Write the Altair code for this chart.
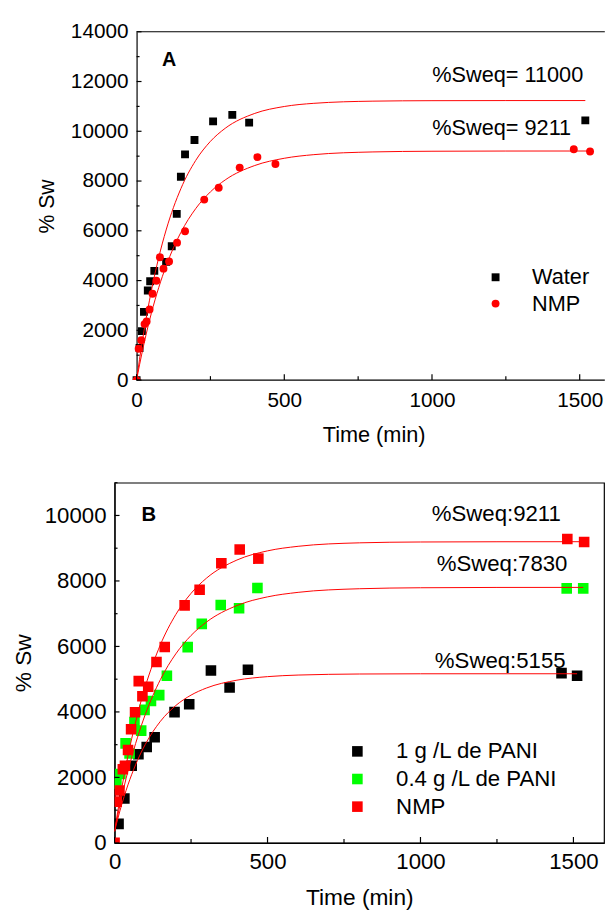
import altair as alt
import pandas as pd

FONT = "Liberation Sans"

# ---------------- Panel A data ----------------
water_t = [0, 10, 18, 25, 38, 46, 60, 100, 119, 136, 150, 164, 196, 259, 324, 381, 1519]
water_s = [0, 1290, 1970, 2740, 3600, 3970, 4390, 4750, 5380, 6680, 8170, 9070, 9650, 10400, 10660, 10350, 10440]
nmp_t = [0, 7, 16, 27, 34, 44, 54, 67, 79, 91, 110, 137, 164, 229, 278, 349, 409, 470, 1480, 1535]
nmp_s = [0, 1260, 1600, 2250, 2355, 2835, 3470, 3990, 4940, 4480, 4770, 5525, 5985, 7255, 7730, 8540, 8963, 8683, 9280, 9190]

fitA_water_t = [0, 10, 25, 50, 75, 100, 150, 200, 250, 300, 400, 500, 600, 800, 1000, 1250, 1519]
fitA_water_s = [0, 833, 1967, 3590, 4929, 6033, 7696, 8826, 9595, 10120, 10718, 10996, 11124, 11211, 11230, 11234, 11235]
fitA_nmp_t = [0, 10, 25, 50, 75, 100, 150, 200, 250, 300, 400, 500, 600, 800, 1000, 1250, 1536]
fitA_nmp_s = [0, 614, 1458, 2687, 3720, 4589, 5937, 6890, 7566, 8045, 8624, 8915, 9061, 9170, 9198, 9206, 9207]

A_labels = ["Water", "NMP"]
A_ann_text = ["%Sweq= 11000", "%Sweq= 9211"]
A_ann_t = [1001, 1001]
A_ann_s = [12267, 10147]

A_x_ticks = [0, 500, 1000, 1500]
A_x_minor = [250, 750, 1250]
A_y_ticks = [0, 2000, 4000, 6000, 8000, 10000, 12000, 14000]
A_y_minor = [1000, 3000, 5000, 7000, 9000, 11000, 13000]

# ---------------- Panel B data ----------------
pani1_t = [13, 32, 56, 78, 105, 131, 196, 244, 315, 376, 436, 1461, 1512]
pani1_s = [581, 1354, 2356, 2708, 2928, 3229, 3993, 4233, 5266, 4745, 5286, 5185, 5106]
pani04_t = [6, 19, 36, 49, 65, 87, 98, 119, 146, 171, 239, 285, 347, 407, 467, 1478, 1532]
pani04_s = [1805, 2106, 3039, 2729, 3692, 3430, 4062, 4333, 4514, 5106, 5980, 6690, 7265, 7165, 7785, 7773, 7773]
# NMP series in panel B is the same as nmp_t / nmp_s

fitB_nmp_t = [0, 10, 25, 50, 75, 100, 150, 200, 250, 300, 400, 500, 600, 800, 1000, 1250, 1550]
fitB_nmp_s = [350, 940, 1752, 2932, 3925, 4760, 6056, 6973, 7622, 8082, 8639, 8919, 9058, 9164, 9190, 9197, 9199]
fitB_04_t = [0, 10, 25, 50, 75, 100, 150, 200, 250, 300, 400, 500, 600, 800, 1000, 1250, 1532]
fitB_04_s = [350, 819, 1468, 2418, 3225, 3913, 4992, 5772, 6335, 6742, 7249, 7514, 7652, 7762, 7792, 7802, 7803]
fitB_1_t = [0, 10, 25, 50, 75, 100, 150, 200, 250, 300, 400, 500, 600, 800, 1000, 1250, 1512]
fitB_1_s = [350, 720, 1223, 1938, 2523, 3002, 3715, 4194, 4514, 4729, 4970, 5078, 5126, 5158, 5165, 5166, 5166]

B_labels = ["1 g /L de PANI", "0.4 g /L de PANI", "NMP"]
B_ann_text = ["%Sweq:9211", "%Sweq:7830", "%Sweq:5155"]
B_ann_t = [1037, 1053, 1047]
B_ann_s = [10044, 8510, 5552]

B_x_ticks = [0, 500, 1000, 1500]
B_x_minor = [250, 750, 1250]
B_y_ticks = [0, 2000, 4000, 6000, 8000, 10000]
B_y_minor = [1000, 3000, 5000, 7000, 9000, 11000]

# ---------------- layout constants ----------------
# panel A's origin sits A_OFF px right of panel B's origin
A_OFF = 22.3
A_W, A_H = 496.8, 353
B_W, B_H = 496, 365


def common(size):
    return dict(labelFont=FONT, titleFont=FONT, labelFontSize=size, labelColor="black",
                titleColor="black", domainColor="black", domainWidth=1.2, ticks=False,
                grid=False, titleFontWeight="normal", labelOverlap=False, format="d")


# ---------------- Panel A ----------------
xA = alt.Scale(domain=[-74.5, 1585], nice=False, zero=False)
yA = alt.Scale(domain=[0, 14000], nice=False)
axAx = alt.Axis(values=A_x_ticks, title="Time (min)", labelPadding=9.6, titlePadding=14.6,
                titleFontSize=22, labelFlush=False, domain=False, titleX=262.5, **common(21))
axAy = alt.Axis(values=A_y_ticks, title="% Sw", labelPadding=8.7, titlePadding=12.1,
                titleFontSize=21.5, offset=-A_OFF, **common(21))


def XA(f):
    return alt.X(f + ":Q", scale=xA, axis=axAx)


def YA(f):
    return alt.Y(f + ":Q", scale=yA, axis=axAy)


ptsA = pd.concat([
    pd.DataFrame({"t": water_t, "s": water_s, "series": A_labels[0]}),
    pd.DataFrame({"t": nmp_t, "s": nmp_s, "series": A_labels[1]}),
])
fitA = pd.concat([
    pd.DataFrame({"t": fitA_water_t, "s": fitA_water_s, "curve": "water"}),
    pd.DataFrame({"t": fitA_nmp_t, "s": fitA_nmp_s, "curve": "nmp"}),
])

legA = alt.Legend(orient="none", legendX=352.8 + A_OFF, legendY=237.8, title=None, labelFont=FONT,
                  labelFontSize=22, labelColor="black", labelOffset=26, rowPadding=4.7, padding=0,
                  symbolStrokeWidth=0, symbolSize=64, symbolOpacity=1, labelLimit=300)

pointsA = alt.Chart(ptsA).mark_point(filled=True, opacity=1, size=64, strokeWidth=0, clip=True).encode(
    x=XA("t"), y=YA("s"),
    color=alt.Color("series:N", scale=alt.Scale(domain=A_labels, range=["#000000", "#ff0000"]), legend=legA),
    shape=alt.Shape("series:N", scale=alt.Scale(domain=A_labels, range=["square", "circle"]), legend=legA),
)
linesA = alt.Chart(fitA).mark_line(color="#ff0000", strokeWidth=1, clip=True, interpolate="monotone").encode(
    x=XA("t"), y=YA("s"), detail="curve:N")

ticksA = [
    alt.Chart(pd.DataFrame({"v": A_x_ticks})).mark_rule(color="black", strokeWidth=1.2).encode(
        x=XA("v"), y=alt.value(A_H), y2=alt.value(A_H - 6)),
    alt.Chart(pd.DataFrame({"v": A_x_minor})).mark_rule(color="black", strokeWidth=1.2).encode(
        x=XA("v"), y=alt.value(A_H), y2=alt.value(A_H - 4)),
    alt.Chart(pd.DataFrame({"v": A_y_ticks})).mark_rule(
        color="black", strokeWidth=1.2, xOffset=A_OFF, x2Offset=A_OFF).encode(
        y=YA("v"), x=alt.value(0), x2=alt.value(5)),
    alt.Chart(pd.DataFrame({"v": A_y_minor})).mark_rule(
        color="black", strokeWidth=1.2, xOffset=A_OFF, x2Offset=A_OFF).encode(
        y=YA("v"), x=alt.value(0), x2=alt.value(3)),
]

annA = alt.Chart(pd.DataFrame({"t": A_ann_t, "s": A_ann_s, "txt": A_ann_text})).mark_text(
    font=FONT, fontSize=22, align="left", baseline="middle", color="black").encode(
    x=XA("t"), y=YA("s"), text="txt:N")
letterA = alt.Chart(pd.DataFrame({"t": [110], "s": [12875], "txt": ["A"]})).mark_text(
    font=FONT, fontSize=20, fontWeight="bold", align="center", baseline="middle", color="black").encode(
    x=XA("t"), y=YA("s"), text="txt:N")

# top and bottom frame lines of panel A (the plot starts A_OFF px into the view)
frameA_top = alt.Chart(pd.DataFrame({"v": [0]})).mark_rule(color="black", strokeWidth=1.2).encode(
    x=alt.value(A_OFF), x2=alt.value(A_W), y=alt.value(0))
frameA_bot = alt.Chart(pd.DataFrame({"v": [0]})).mark_rule(color="black", strokeWidth=1.2).encode(
    x=alt.value(A_OFF), x2=alt.value(A_W), y=alt.value(A_H))

panelA = alt.layer(pointsA, linesA, *ticksA, annA, letterA, frameA_top, frameA_bot).properties(
    width=A_W, height=A_H, view=alt.ViewBackground(stroke="transparent"))

# ---------------- Panel B ----------------
xB = alt.Scale(domain=[0, 1600], nice=False)
yB = alt.Scale(domain=[0, 11000], nice=False)
axBx = alt.Axis(values=B_x_ticks, title="Time (min)", labelPadding=8.3, titlePadding=13.2,
                titleFontSize=23, labelFlush=False, **common(22.5))
axBy = alt.Axis(values=B_y_ticks, title="% Sw", labelPadding=8.7, titlePadding=8.6,
                titleFontSize=23, **common(22.5))


def XB(f):
    return alt.X(f + ":Q", scale=xB, axis=axBx)


def YB(f):
    return alt.Y(f + ":Q", scale=yB, axis=axBy)


ptsB = pd.concat([
    pd.DataFrame({"t": pani1_t, "s": pani1_s, "series": B_labels[0]}),
    pd.DataFrame({"t": pani04_t, "s": pani04_s, "series": B_labels[1]}),
    pd.DataFrame({"t": nmp_t, "s": nmp_s, "series": B_labels[2]}),
])
fitB = pd.concat([
    pd.DataFrame({"t": fitB_1_t, "s": fitB_1_s, "curve": "c1"}),
    pd.DataFrame({"t": fitB_04_t, "s": fitB_04_s, "curve": "c04"}),
    pd.DataFrame({"t": fitB_nmp_t, "s": fitB_nmp_s, "curve": "cnmp"}),
])

legB = alt.Legend(orient="none", legendX=234.8, legendY=261, title=None, labelFont=FONT,
                  labelFontSize=22.5, labelColor="black", labelOffset=28, rowPadding=5, padding=0,
                  symbolStrokeWidth=0, symbolSize=115, symbolOpacity=1, symbolType="square",
                  labelLimit=300)

pointsB = alt.Chart(ptsB).mark_square(filled=True, opacity=1, size=115, strokeWidth=0, clip=True).encode(
    x=XB("t"), y=YB("s"),
    color=alt.Color("series:N", scale=alt.Scale(domain=B_labels, range=["#000000", "#00ff00", "#ff0000"]),
                    legend=legB),
)
linesB = alt.Chart(fitB).mark_line(color="#ff0000", strokeWidth=1, clip=True, interpolate="monotone").encode(
    x=XB("t"), y=YB("s"), detail="curve:N")

ticksB = [
    alt.Chart(pd.DataFrame({"v": B_x_ticks})).mark_rule(color="black", strokeWidth=1.2).encode(
        x=XB("v"), y=alt.value(B_H), y2=alt.value(B_H - 6)),
    alt.Chart(pd.DataFrame({"v": B_x_minor})).mark_rule(color="black", strokeWidth=1.2).encode(
        x=XB("v"), y=alt.value(B_H), y2=alt.value(B_H - 4)),
    alt.Chart(pd.DataFrame({"v": B_y_ticks})).mark_rule(color="black", strokeWidth=1.2).encode(
        y=YB("v"), x=alt.value(0), x2=alt.value(5)),
    alt.Chart(pd.DataFrame({"v": B_y_minor})).mark_rule(color="black", strokeWidth=1.2).encode(
        y=YB("v"), x=alt.value(0), x2=alt.value(3)),
]

annB = alt.Chart(pd.DataFrame({"t": B_ann_t, "s": B_ann_s, "txt": B_ann_text})).mark_text(
    font=FONT, fontSize=22.5, align="left", baseline="middle", color="black").encode(
    x=XB("t"), y=YB("s"), text="txt:N")
letterB = alt.Chart(pd.DataFrame({"t": [112], "s": [10005], "txt": ["B"]})).mark_text(
    font=FONT, fontSize=20.5, fontWeight="bold", align="center", baseline="middle", color="black").encode(
    x=XB("t"), y=YB("s"), text="txt:N")

panelB = alt.layer(pointsB, linesB, *ticksB, annB, letterB).properties(
    width=B_W, height=B_H, view=alt.ViewBackground(stroke="black", strokeWidth=1.2))

chart = alt.vconcat(panelA, panelB, spacing=35).resolve_scale(
    x="independent", y="independent", color="independent", shape="independent"
).resolve_axis(x="independent", y="independent").resolve_legend(
    color="independent", shape="independent"
).properties(
    padding={"left": 4, "top": 6, "right": 0, "bottom": 0}
).configure(font=FONT)

chart.save("out.html", embed_options={"renderer": "svg", "actions": False})
